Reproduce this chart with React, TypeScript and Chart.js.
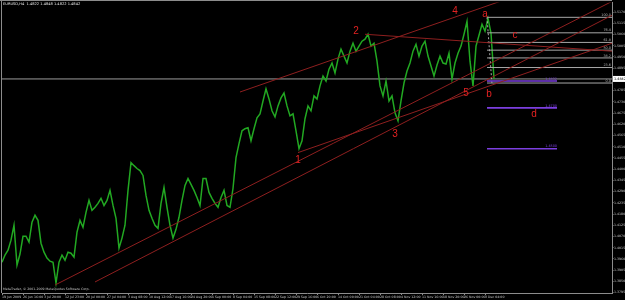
import React, { useEffect, useRef } from 'react';
import { Chart, registerables } from 'chart.js';

Chart.register(...registerables);

// ---------- data ----------
const chartTitle = 'EURUSD,H4  1.4822 1.4848 1.4822 1.4842';
const copyrightText = 'MetaTrader, \u00a9 2001-2009 MetaQuotes Software Corp.';

// time axis labels (one every 31 H4 bars)
const timeLabels = [
  '19 Jun 2009', '26 Jun 16:00', '3 Jul 20:00', '12 Jul 23:00', '20 Jul 00:00', '27 Jul 04:00',
  '3 Aug 08:00', '10 Aug 12:00', '17 Aug 16:00', '24 Aug 20:00', '1 Sep 00:00', '8 Sep 04:00',
  '15 Sep 08:00', '22 Sep 12:00', '29 Sep 16:00', '6 Oct 20:00', '14 Oct 00:00', '21 Oct 04:00',
  '28 Oct 08:00', '4 Nov 12:00', '11 Nov 16:00', '18 Nov 20:00', '26 Nov 00:00', '3 Dec 04:00',
];

// price axis labels
const priceTicks = [
  1.3795, 1.385, 1.3905, 1.396, 1.4015, 1.407, 1.4125, 1.418, 1.4235, 1.429, 1.4345, 1.44, 1.4455,
  1.451, 1.4565, 1.462, 1.4675, 1.473, 1.4785, 1.484, 1.4895, 1.495, 1.5005, 1.506, 1.5115, 1.517,
];

// EURUSD path (one reading per time step)
const prices = [
  1.3944, 1.3979, 1.4003, 1.4052, 1.4125, 1.3930, 1.3984, 1.4071, 1.4071, 1.4042,
  1.4140, 1.4174, 1.4149, 1.4037, 1.3993, 1.3964, 1.3949, 1.3944, 1.3842, 1.3944,
  1.3979, 1.3954, 1.3993, 1.3988, 1.3969, 1.4091, 1.4149, 1.4115, 1.4188, 1.4247,
  1.4198, 1.4213, 1.4232, 1.4257, 1.4222, 1.4247, 1.4296, 1.4222, 1.4159, 1.4013,
  1.4062, 1.4125, 1.4296, 1.4432, 1.4417, 1.4403, 1.4393, 1.4369, 1.4271, 1.4198,
  1.4159, 1.4125, 1.4110, 1.4232, 1.4310, 1.4213, 1.4125, 1.4062, 1.4105, 1.4164,
  1.4247, 1.4320, 1.4354, 1.4325, 1.4296, 1.4261, 1.4222, 1.4354, 1.4354, 1.4286,
  1.4257, 1.4232, 1.4213, 1.4261, 1.4296, 1.4222, 1.4213, 1.4305, 1.4456, 1.4525,
  1.4588, 1.4598, 1.4603, 1.4539, 1.4598, 1.4651, 1.4671, 1.4734, 1.4793, 1.4744,
  1.4686, 1.4656, 1.4710, 1.4749, 1.4773, 1.4710, 1.4661, 1.4671, 1.4588, 1.4500,
  1.4539, 1.4647, 1.4710, 1.4686, 1.4759, 1.4744, 1.4808, 1.4856, 1.4832, 1.4890,
  1.4920, 1.4871, 1.4939, 1.4988, 1.4954, 1.4920, 1.4978, 1.5017, 1.4978, 1.5003,
  1.5027, 1.5037, 1.5061, 1.5003, 1.5017, 1.4929, 1.4808, 1.4759, 1.4832, 1.4734,
  1.4759, 1.4676, 1.4637, 1.4734, 1.4822, 1.4881, 1.4920, 1.4978, 1.5012, 1.4954,
  1.5003, 1.5027, 1.4954, 1.4905, 1.4856, 1.4910, 1.4954, 1.4920, 1.4915, 1.4968,
  1.4842, 1.4920, 1.4968, 1.5003, 1.5061, 1.5124, 1.4929, 1.4808, 1.5003, 1.5056,
  1.5110, 1.5076, 1.5139, 1.5066, 1.4842,
];

const bidPrice = 1.4842;

// trend lines: [time0, price0, time1, price1]
const trendLines = [
  [17.67, 1.3832, 203.33, 1.5222],
  [31.0, 1.3847, 203.33, 1.5154],
  [98.67, 1.4481, 203.33, 1.5017],
  [79.33, 1.4778, 166.0, 1.5222],
  [121.0, 1.5061, 203.33, 1.4978],
];

// fibonacci retracement
const fibHigh = 1.5144;
const fibLow = 1.4822;
const fibRatios = [0, 23.6, 38.2, 50.0, 61.8, 76.4, 100.0];
const fibStart = 161.67;
const fibAnchorEnd = 163.3;

// horizontal target lines
const targetLevels = [1.4832, 1.47, 1.45];
const targetStart = 161.67;
const targetEnd = 185.0;

// wave labels: [text, time, price]
const waveLabels: [string, number, number][] = [
  ['1', 98.7, 1.4442],
  ['2', 118.0, 1.5076],
  ['3', 131.0, 1.4573],
  ['4', 151.0, 1.5173],
  ['5', 154.7, 1.4773],
  ['a', 161.0, 1.5159],
  ['b', 162.3, 1.4769],
  ['c', 171.0, 1.5056],
  ['d', 177.3, 1.4671],
];

// ---------- chart ----------
const X_MAX = 203.33;
const LABEL_STEP = 7;
const GREEN = '#22a822';
const RED_LINE = '#8e1f1f';
const RED_TEXT = '#e32222';
const GRAY = '#8c8c8c';
const PURPLE = '#7c3fe0';
const TINY = 'DejaVu Sans, sans-serif';

const overlay = {
  id: 'mtOverlay',
  beforeDraw(c: any) {
    const g = c.ctx;
    g.save();
    g.fillStyle = '#000';
    g.fillRect(0, 0, c.width, c.height);
    g.restore();
  },
  afterDraw(c: any) {
    const g = c.ctx;
    const xs = c.scales.x;
    const ys = c.scales.y;
    const a = c.chartArea;
    g.save();
    // frame
    g.strokeStyle = GRAY;
    g.lineWidth = 1;
    g.beginPath();
    g.moveTo(0, 0.5);
    g.lineTo(a.right, 0.5);
    g.moveTo(1.5, 0);
    g.lineTo(1.5, a.bottom);
    g.stroke();

    // title & copyright
    g.font = `3.6px ${TINY}`;
    g.fillStyle = '#e8e8e8';
    g.textBaseline = 'middle';
    g.textAlign = 'left';
    g.fillText(chartTitle, 3, 4);
    g.fillStyle = '#c0c0c0';
    g.font = `3.2px ${TINY}`;
    g.fillText(copyrightText, 3, 289.5);

    // fib labels
    g.fillStyle = '#b4b4b4';
    g.font = `3.4px ${TINY}`;
    g.textAlign = 'right';
    g.textBaseline = 'bottom';
    fibRatios.forEach((r) => {
      const y = ys.getPixelForValue(fibLow + (r / 100) * (fibHigh - fibLow));
      g.fillText(r.toFixed(1), a.right - 1, y - 0.5);
    });

    // target labels
    g.fillStyle = PURPLE;
    targetLevels.forEach((p) => {
      const y = ys.getPixelForValue(p);
      g.fillText(p.toFixed(4), xs.getPixelForValue(targetEnd), y - 0.5);
    });

    // wave labels
    g.fillStyle = RED_TEXT;
    g.font = `10px "Liberation Sans", Arial, sans-serif`;
    g.textAlign = 'center';
    g.textBaseline = 'middle';
    waveLabels.forEach(([t, tx, p]) => {
      g.fillText(t, xs.getPixelForValue(tx), ys.getPixelForValue(p));
    });

    // current price box
    const by = ys.getPixelForValue(bidPrice);
    g.fillStyle = '#ffffff';
    g.fillRect(a.right + 1, by - 3, c.width - a.right - 1, 6);
    g.fillStyle = '#000';
    g.font = `3.4px ${TINY}`;
    g.textAlign = 'left';
    g.textBaseline = 'middle';
    g.fillText(bidPrice.toFixed(4), a.right + 2, by);
    g.restore();
  },
};

export default function App() {
  const ref = useRef<HTMLCanvasElement>(null);
  useEffect(() => {
    document.body.style.margin = '0';
    document.body.style.background = '#000';
    const seg = (x0: number, y0: number, x1: number, y1: number) => [
      { x: x0, y: y0 },
      { x: x1, y: y1 },
    ];
    const lineDs = (data: any[], color: string, width: number, order: number, dash: number[] = []) => ({
      type: 'line' as const,
      data,
      borderColor: color,
      borderWidth: width,
      borderDash: dash,
      pointRadius: 0,
      tension: 0,
      fill: false,
      order,
    });
    const datasets: any[] = [];
    datasets.push(lineDs(prices.map((p, i) => ({ x: i, y: p })), GREEN, 1.5, 5));
    datasets.push(lineDs(seg(0, bidPrice, X_MAX, bidPrice), '#9c9c9c', 1, 6));
    fibRatios.forEach((r) => {
      const p = fibLow + (r / 100) * (fibHigh - fibLow);
      datasets.push(lineDs(seg(fibStart, p, X_MAX, p), '#a8a8a8', 1, 4));
    });
    datasets.push(lineDs(seg(fibStart, fibHigh, fibAnchorEnd, fibLow), '#a8a8a8', 1, 4, [2, 2]));
    targetLevels.forEach((p) => {
      datasets.push(lineDs(seg(targetStart, p, targetEnd, p), PURPLE, 1.6, 3));
    });
    trendLines.forEach(([t0, p0, t1, p1]) => {
      datasets.push(lineDs(seg(t0, p0, t1, p1), RED_LINE, 1, 2));
    });

    const chart = new Chart(ref.current!, {
      type: 'line',
      data: { datasets },
      options: {
        animation: false,
        responsive: false,
        maintainAspectRatio: false,
        layout: { padding: { left: 2, top: 1, right: 0, bottom: 0 } },
        plugins: { legend: { display: false }, tooltip: { enabled: false } },
        scales: {
          x: {
            type: 'linear',
            min: 0,
            max: X_MAX,
            afterBuildTicks: (s: any) => {
              s.ticks = timeLabels.map((_, k) => ({ value: k * LABEL_STEP }));
            },
            afterFit: (s: any) => {
              s.height = 7;
            },
            ticks: {
              callback: (_v: any, i: number) => timeLabels[i],
              autoSkip: false,
              maxRotation: 0,
              minRotation: 0,
              align: 'start',
              padding: 0,
              color: '#c8c8c8',
              font: { size: 3.2, family: TINY },
            },
            grid: { drawOnChartArea: false, color: GRAY, tickLength: 2 },
            border: { color: GRAY },
          },
          y: {
            type: 'linear',
            position: 'right',
            min: 1.3793,
            max: 1.5217,
            afterBuildTicks: (s: any) => {
              s.ticks = priceTicks.map((v) => ({ value: v }));
            },
            afterFit: (s: any) => {
              s.width = 13;
            },
            ticks: {
              callback: (v: any) => Number(v).toFixed(4),
              autoSkip: false,
              padding: 0.5,
              color: '#c8c8c8',
              font: { size: 3.2, family: TINY },
            },
            grid: { drawOnChartArea: false, color: GRAY, tickLength: 1.5 },
            border: { color: GRAY },
          },
        },
      } as any,
      plugins: [overlay],
    });
    return () => chart.destroy();
  }, []);
  return (
    <canvas
      ref={ref}
      width={625}
      height={300}
      style={{ display: 'block', width: 625, height: 300 }}
    />
  );
}
